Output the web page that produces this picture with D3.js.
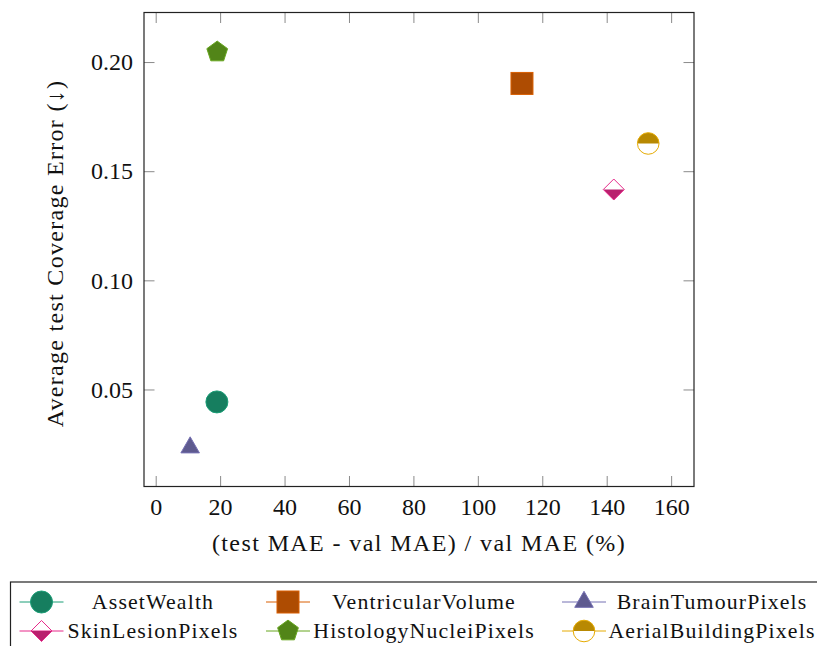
<!DOCTYPE html>
<html>
<head>
<meta charset="utf-8">
<script src="https://cdn.jsdelivr.net/npm/d3@7"></script>
<style>
  body { margin: 0; background: #fff; }
  svg { display: block; }
  text { font-family: "Liberation Serif", "DejaVu Serif", serif; fill: #111; }
</style>
</head>
<body>
<div id="chart"></div>
<script>
// data
const datasets = ['AssetWealth', 'VentricularVolume', 'BrainTumourPixels',
                  'SkinLesionPixels', 'HistologyNucleiPixels', 'AerialBuildingPixels'];
const relGap = [19.0, 113.7, 10.7, 142.2, 19.1, 152.9];          // (test MAE - val MAE) / val MAE (%)
const coverageError = [0.0443, 0.1902, 0.0234, 0.1416, 0.2046, 0.1627];
const xTicks = [0, 20, 40, 60, 80, 100, 120, 140, 160];
const yTicks = [0.05, 0.10, 0.15, 0.20];

const lineColors = ['#1b9e77', '#d95f02', '#7570b3', '#e7298a', '#66a61e', '#e6ab02'];
const fillColors = ['#167e5f', '#ae4c02', '#5e5a8f', '#b9216e', '#528518', '#b88902'];
const markerKinds = ['circle', 'square', 'triangle', 'halfdiamond', 'pentagon', 'halfcircle'];

const width = 817, height = 646;
const plot = { left: 144, right: 694, top: 12.5, bottom: 486.5 };
const fontSize = 24, legendFontSize = 21.8;

const svg = d3.select('#chart').append('svg')
  .attr('width', width).attr('height', height);

const x = d3.scaleLinear().domain([-3.63, 167.1]).range([plot.left, plot.right]);
const y = d3.scaleLinear().domain([0.00555, 0.2227]).range([plot.bottom, plot.top]);

// ticks on all four sides, pointing inwards
const tickLen = 10.5;
const axisG = svg.append('g');
axisG.append('g').attr('transform', `translate(0,${plot.bottom})`)
  .call(d3.axisBottom(x).tickValues(xTicks).tickSizeInner(-tickLen).tickSizeOuter(0).tickPadding(11.5));
axisG.append('g').attr('transform', `translate(0,${plot.top})`)
  .call(d3.axisTop(x).tickValues(xTicks).tickSizeInner(-tickLen).tickSizeOuter(0).tickFormat(''));
axisG.append('g').attr('transform', `translate(${plot.left},0)`)
  .call(d3.axisLeft(y).tickValues(yTicks).tickSizeInner(-tickLen).tickSizeOuter(0)
    .tickPadding(11).tickFormat(d3.format('.2f')));
axisG.append('g').attr('transform', `translate(${plot.right},0)`)
  .call(d3.axisRight(y).tickValues(yTicks).tickSizeInner(-tickLen).tickSizeOuter(0).tickFormat(''));
axisG.selectAll('.domain').remove();
axisG.selectAll('.tick line').attr('stroke', '#8a8a8a').attr('stroke-width', 1);
axisG.selectAll('.tick text').style('font-family', '"Liberation Serif", serif')
  .style('font-size', fontSize + 'px').attr('fill', '#111');

svg.append('rect')
  .attr('x', plot.left).attr('y', plot.top)
  .attr('width', plot.right - plot.left).attr('height', plot.bottom - plot.top)
  .attr('fill', 'none').attr('stroke', '#222').attr('stroke-width', 1.2);

svg.append('text')
  .attr('x', (plot.left + plot.right) / 2).attr('y', 551)
  .attr('text-anchor', 'middle').style('font-size', fontSize + 'px')
  .style('letter-spacing', '1.4px')
  .text('(test MAE - val MAE) / val MAE (%)');

svg.append('text')
  .attr('transform', `translate(63,${(plot.top + plot.bottom) / 2 + 4}) rotate(-90)`)
  .attr('text-anchor', 'middle').style('font-size', fontSize + 'px')
  .style('letter-spacing', '1.3px')
  .text('Average test Coverage Error (\u2193)');

function drawMarker(g, kind, stroke, fill) {
  const sw = 1;
  if (kind === 'circle') {
    g.append('circle').attr('r', 11).attr('fill', fill).attr('stroke', stroke).attr('stroke-width', sw);
  } else if (kind === 'square') {
    g.append('rect').attr('x', -11).attr('y', -11).attr('width', 22).attr('height', 22)
      .attr('fill', fill).attr('stroke', stroke).attr('stroke-width', sw);
  } else if (kind === 'triangle') {
    const r = 10.7, s = r * Math.sin(Math.PI / 3);
    g.append('path').attr('d', `M0,${-r}L${s},${r / 2}L${-s},${r / 2}Z`)
      .attr('fill', fill).attr('stroke', stroke).attr('stroke-width', sw);
  } else if (kind === 'pentagon') {
    const r = 10.9;
    const pts = d3.range(5).map(i => {
      const a = -Math.PI / 2 + i * 2 * Math.PI / 5;
      return [r * Math.cos(a), r * Math.sin(a)];
    });
    g.append('path').attr('d', 'M' + pts.join('L') + 'Z')
      .attr('fill', fill).attr('stroke', stroke).attr('stroke-width', sw);
  } else if (kind === 'halfdiamond') {
    const r = 10.5;
    g.append('path').attr('d', `M${-r},0L${r},0L0,${r}Z`).attr('fill', fill);
    g.append('path').attr('d', `M0,${-r}L${r},0L0,${r}L${-r},0Z`)
      .attr('fill', 'none').attr('stroke', stroke).attr('stroke-width', sw);
  } else if (kind === 'halfcircle') {
    const r = 10.8;
    g.append('circle').attr('r', r).attr('fill', '#fff');
    g.append('path').attr('d', `M${-r},0A${r},${r} 0 0 1 ${r},0Z`).attr('fill', fill);
    g.append('circle').attr('r', r).attr('fill', 'none').attr('stroke', stroke).attr('stroke-width', sw);
  }
}

// points
const marks = svg.append('g');
datasets.forEach((name, i) => {
  const g = marks.append('g')
    .attr('transform', `translate(${x(relGap[i])},${y(coverageError[i])})`);
  drawMarker(g, markerKinds[i], lineColors[i], fillColors[i]);
});

// legend, 3 columns x 2 rows, box running off the right edge
const legendBox = { x: 10.5, y: 582, w: 820, h: 80 };
svg.append('rect')
  .attr('x', legendBox.x).attr('y', legendBox.y)
  .attr('width', legendBox.w).attr('height', legendBox.h)
  .attr('fill', '#fff').attr('stroke', '#222').attr('stroke-width', 1.2);

const colMarkerX = [41.5, 288, 584];
const colTextX = [153, 424, 712];
const rowY = [602, 631];
datasets.forEach((name, i) => {
  const col = i % 3, row = Math.floor(i / 3);
  const cx = colMarkerX[col], cy = rowY[row];
  svg.append('line')
    .attr('x1', cx - 22).attr('x2', cx + 22).attr('y1', cy).attr('y2', cy)
    .attr('stroke', lineColors[i]).attr('stroke-width', 1);
  const g = svg.append('g').attr('transform', `translate(${cx},${cy})`);
  drawMarker(g, markerKinds[i], lineColors[i], fillColors[i]);
  svg.append('text')
    .attr('x', colTextX[col]).attr('y', cy).attr('dy', '0.33em')
    .attr('text-anchor', 'middle').style('font-size', legendFontSize + 'px')
    .style('letter-spacing', '1.15px')
    .text(name);
});
</script>
</body>
</html>
